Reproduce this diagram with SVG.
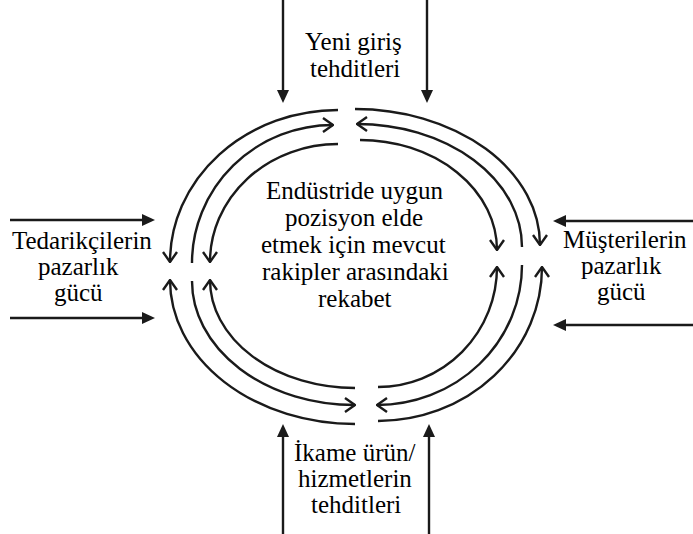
<svg xmlns="http://www.w3.org/2000/svg" width="693" height="534" viewBox="0 0 693 534">
<defs>
<marker id="chev" viewBox="0 0 12 16" refX="11" refY="8" markerWidth="12" markerHeight="16" markerUnits="userSpaceOnUse" orient="auto"><path d="M1,1 L11,8 L1,15" fill="none" stroke="#1a1a1a" stroke-width="2.4"/></marker>
<marker id="tri" viewBox="0 0 13 12" refX="5" refY="6" markerWidth="13" markerHeight="12" markerUnits="userSpaceOnUse" orient="auto"><path d="M0,0 L13,6 L0,12 Z" fill="#1a1a1a"/></marker>
</defs>
<rect width="693" height="534" fill="#fff"/>
<g id="connectors" fill="none" stroke="#1a1a1a" stroke-width="2.4">
<path d="M338,110 A168,152 0 0 0 170,262" marker-end="url(#chev)"/>
<path d="M192,263 A141,138 0 0 1 333,125" marker-end="url(#chev)"/>
<path d="M338,144 A128,118 0 0 0 210,262" marker-end="url(#chev)"/>
<path d="M355,109 A185,136 0 0 1 540,245" marker-end="url(#chev)"/>
<path d="M522,247 A165,123 0 0 0 357,124" marker-end="url(#chev)"/>
<path d="M360,140 A137,110 0 0 1 497,250" marker-end="url(#chev)"/>
<path d="M355,424 A185,144 0 0 1 170,280" marker-end="url(#chev)"/>
<path d="M192,281 A163,124 0 0 0 355,405" marker-end="url(#chev)"/>
<path d="M355,388 A145,108 0 0 1 210,280" marker-end="url(#chev)"/>
<path d="M378,421 A164,154 0 0 0 542,267" marker-end="url(#chev)"/>
<path d="M522,265 A145,140 0 0 1 377,405" marker-end="url(#chev)"/>
<path d="M378,387 A119,120 0 0 0 497,267" marker-end="url(#chev)"/>
<path d="M283,0 V95" marker-end="url(#tri)"/>
<path d="M427,0 V95" marker-end="url(#tri)"/>
<path d="M283,534 V432" marker-end="url(#tri)"/>
<path d="M429,534 V432" marker-end="url(#tri)"/>
<path d="M10,220 H147" marker-end="url(#tri)"/>
<path d="M10,318 H147" marker-end="url(#tri)"/>
<path d="M693,221 H561" marker-end="url(#tri)"/>
<path d="M693,325 H561" marker-end="url(#tri)"/>
</g>
<g id="node-new-entrants">
<text font-family="Liberation Serif" font-size="25" style="font-family:'Liberation Serif'" x="305" y="50">Yeni giriş</text>
<text font-family="Liberation Serif" font-size="25" style="font-family:'Liberation Serif'" x="310" y="77">tehditleri</text>
</g>
<g id="node-rivalry">
<text font-family="Liberation Serif" font-size="25" style="font-family:'Liberation Serif'" x="266" y="199">Endüstride uygun</text>
<text font-family="Liberation Serif" font-size="25" style="font-family:'Liberation Serif'" x="285" y="226">pozisyon elde</text>
<text font-family="Liberation Serif" font-size="25" style="font-family:'Liberation Serif'" x="261" y="253">etmek için mevcut</text>
<text font-family="Liberation Serif" font-size="25" style="font-family:'Liberation Serif'" x="262" y="280">rakipler arasındaki</text>
<text font-family="Liberation Serif" font-size="25" style="font-family:'Liberation Serif'" x="318" y="307">rekabet</text>
</g>
<g id="node-suppliers">
<text font-family="Liberation Serif" font-size="25" style="font-family:'Liberation Serif'" x="12" y="249">Tedarikçilerin</text>
<text font-family="Liberation Serif" font-size="25" style="font-family:'Liberation Serif'" x="38" y="275">pazarlık</text>
<text font-family="Liberation Serif" font-size="25" style="font-family:'Liberation Serif'" x="54" y="301">gücü</text>
</g>
<g id="node-buyers">
<text font-family="Liberation Serif" font-size="25" style="font-family:'Liberation Serif'" x="563" y="248">Müşterilerin</text>
<text font-family="Liberation Serif" font-size="25" style="font-family:'Liberation Serif'" x="581" y="274">pazarlık</text>
<text font-family="Liberation Serif" font-size="25" style="font-family:'Liberation Serif'" x="597" y="300">gücü</text>
</g>
<g id="node-substitutes">
<text font-family="Liberation Serif" font-size="25" style="font-family:'Liberation Serif'" x="294" y="461">İkame ürün/</text>
<text font-family="Liberation Serif" font-size="25" style="font-family:'Liberation Serif'" x="298" y="487">hizmetlerin</text>
<text font-family="Liberation Serif" font-size="25" style="font-family:'Liberation Serif'" x="311" y="513">tehditleri</text>
</g>
</svg>
